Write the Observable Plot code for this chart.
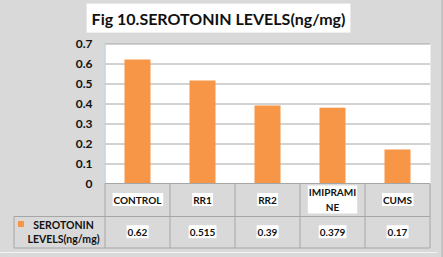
<!DOCTYPE html>
<html>
<head>
<meta charset="utf-8">
<script src="https://cdn.jsdelivr.net/npm/d3@7"></script>
<script src="https://cdn.jsdelivr.net/npm/@observablehq/plot@0.6"></script>
<style>
  html, body { margin: 0; padding: 0; background: #d9d9d9; }
  #chart { width: 443px; height: 257px; overflow: hidden; }
</style>
</head>
<body>
<div id="chart"></div>
<script>
// Chart values
const title = "Fig 10.SEROTONIN LEVELS(ng/mg)";
const groups = ["CONTROL", "RR1", "RR2", "IMIPRAMINE", "CUMS"];
const groupLines = [["CONTROL"], ["RR1"], ["RR2"], ["IMIPRAMI", "NE"], ["CUMS"]];
const serotonin = [0.62, 0.515, 0.39, 0.379, 0.17];
const valueLabels = ["0.62", "0.515", "0.39", "0.379", "0.17"];
const seriesLines = ["SEROTONIN", "LEVELS(ng/mg)"];
const yTicks = [0, 0.1, 0.2, 0.3, 0.4, 0.5, 0.6, 0.7];

const barColor = "#f79646";
const lineColor = "#a6a6a6";
const textColor = "#111";
const font = "Lato, 'Open Sans', sans-serif";

const rows = groups.map((g, i) => ({group: g, value: serotonin[i]}));

const chart = Plot.plot({
  width: 443,
  height: 257,
  marginTop: 43.5,
  marginBottom: 73.5,
  marginLeft: 105,
  marginRight: 13,
  style: {background: "#d9d9d9", fontFamily: font, fontWeight: "bold", color: textColor},
  x: {domain: groups, padding: 0, axis: null},
  y: {domain: [0, 0.7], axis: null},
  marks: [
    Plot.frame({fill: "white", stroke: null}),
    Plot.gridY(yTicks.filter(d => d > 0), {stroke: lineColor, strokeOpacity: 1}),
    Plot.barY(rows, {x: "group", y: "value", fill: barColor, insetLeft: 19.5, insetRight: 19.5}),
    Plot.axisY(yTicks, {
      tickSize: 0,
      tickPadding: 13,
      fontSize: 12,
      fill: textColor,
      label: null,
      tickFormat: d => d === 0 ? "0" : d3.format(".1f")(d)
    })
  ]
});

document.getElementById("chart").append(chart);

// Data table under the plot, laid out on the plot's own x scale
const x = chart.scale("x");
const y = chart.scale("y");
const svg = d3.select(chart);
const left = x.range[0];
const right = x.range[1];
const top0 = y.apply(0);
const row1 = top0 + 33;
const row2 = row1 + 31.5;
const labelLeft = 14;
const g = svg.append("g");

// value axis line
g.append("line")
  .attr("x1", left).attr("x2", left)
  .attr("y1", y.apply(0.7)).attr("y2", top0)
  .attr("stroke", "#b7d6df");

// table rules
const hLines = [[left, top0], [labelLeft, row1], [labelLeft, row2]];
for (const [x0, yy] of hLines) {
  g.append("line").attr("x1", x0).attr("x2", right).attr("y1", yy).attr("y2", yy)
    .attr("stroke", lineColor);
}
const vEdges = groups.map(d => x.apply(d)).concat([right]);
for (const xx of vEdges) {
  g.append("line").attr("x1", xx).attr("x2", xx).attr("y1", top0).attr("y2", row2)
    .attr("stroke", lineColor);
}
g.append("line").attr("x1", labelLeft).attr("x2", labelLeft).attr("y1", row1).attr("y2", row2)
  .attr("stroke", lineColor);

// centred multi-line text, optionally on a white highlight box
function cellText(lines, cx, cy, size, lineHeight, highlight, padX = 1, padY = 0.5) {
  const t = g.append("text")
    .attr("text-anchor", "middle")
    .attr("font-size", size)
    .attr("font-family", font)
    .attr("font-weight", "bold")
    .attr("fill", textColor);
  lines.forEach((s, i) => {
    t.append("tspan")
      .attr("x", cx)
      .attr("y", cy + (i - (lines.length - 1) / 2) * lineHeight)
      .attr("dy", "0.35em")
      .text(s);
  });
  if (highlight) {
    const b = t.node().getBBox();
    g.insert("rect", () => t.node())
      .attr("x", b.x - padX).attr("y", b.y - padY)
      .attr("width", b.width + 2 * padX).attr("height", b.height + 2 * padY)
      .attr("fill", "white");
  }
  return t;
}

groups.forEach((d, i) => {
  const cx = x.apply(d) + x.bandwidth / 2;
  cellText(groupLines[i], cx, (top0 + row1) / 2, 10, 15, true);
  cellText([valueLabels[i]], cx, (row1 + row2) / 2, 10, 15, true);
});

// series key in the table's label column
g.append("rect")
  .attr("x", 18).attr("y", 221).attr("width", 6).attr("height", 6)
  .attr("fill", barColor);
cellText(seriesLines, (labelLeft + left) / 2 + 4, (row1 + row2) / 2 + 0.5, 10.5, 14, false);

// title
cellText([title], 218.5, 19, 16, 16, true, 5, 5);

// chart area edges
svg.append("line").attr("x1", 0).attr("x2", 437).attr("y1", 252.5).attr("y2", 252.5)
  .attr("stroke", "#f4f4f4");
svg.append("rect").attr("x", 441).attr("y", 0).attr("width", 2).attr("height", 257)
  .attr("fill", "#c4c4c4");
</script>
</body>
</html>
